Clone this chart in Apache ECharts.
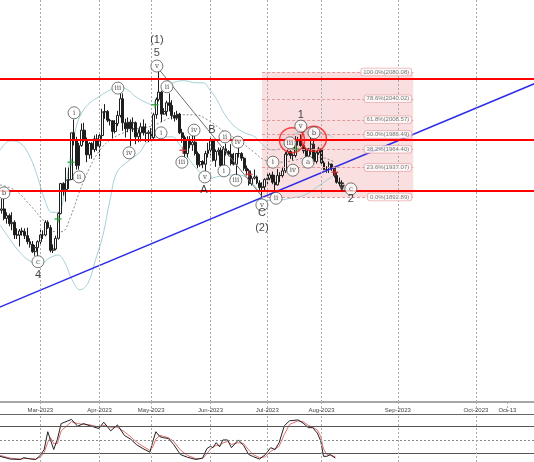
<!DOCTYPE html>
<html><head><meta charset="utf-8">
<script src="https://cdn.jsdelivr.net/npm/echarts@6/dist/echarts.min.js"></script>
<style>html,body{margin:0;padding:0;background:#fff}#c{width:534px;height:462px}</style>
</head><body><div id="c"></div>
<script>
// trading-day index: Feb 1 2023 = 0
const firstDay = 4;
const open = [1867,1873,1875,1861,1865,1853,1855,1836,1836,1842,1841,1835,1826,1822,1811,1817,
1826,1836,1836,1855,1847,1813,1815,1831,1868,1913,1904,1918,1919,1989,1978,1940,1970,1993,1978,1956,1973,1964,1980,
1969,1985,2020,2021,2008,2007,1991,2003,2015,2040,2004,1995,2005,1995,2004,1983,1989,1998,1989,1988,
1990,1982,2016,2039,2050,2017,2021,2034,2030,2015,2011,2017,1989,1982,1958,1978,1971,1975,1958,1941,1946,1942,1958,
1963,1978,1948,1961,1963,1940,1965,1961,1957,1943,1942,1958,1958,1951,1936,1932,1913,1921,1923,1914,1907,1908,
1919,1921,1926,1915,1911,1925,1925,1932,1957,1961,1955,1955,1979,1977,1970,1962,1954,1965,1972,1946,1959,
1965,1944,1934,1934,1942,1936,1925,1915,1913];
const high = [1880,1890,1890,1870,1868,1870,1858,1846,1845,1847,1846,1847,1831,1827,1821,1828,
1844,1843,1858,1858,1851,1822,1835,1870,1914,1915,1937,1937,1989,2009,1983,1974,2003,2004,1982,1975,1975,1985,1987,
1990,2025,2032,2023,2010,2008,2008,2022,2048,2048,2010,2012,2009,2012,2006,1994,2004,2009,2003,1993,
1996,2019,2042,2081,2052,2026,2037,2048,2038,2020,2022,2019,1995,1985,1984,1984,1985,1985,1961,1957,1948,1962,1974,
1983,1980,1964,1967,1967,1969,1973,1963,1972,1959,1958,1968,1960,1953,1940,1935,1925,1934,1925,1918,1915,1921,
1930,1929,1931,1926,1935,1930,1938,1960,1964,1963,1958,1984,1983,1987,1972,1966,1966,1982,1979,1962,1968,
1966,1947,1939,1946,1943,1938,1930,1922,1918];
const low = [1860,1868,1858,1853,1849,1843,1830,1830,1819,1835,1830,1822,1817,1809,1805,1804,
1822,1830,1834,1845,1810,1809,1813,1829,1867,1895,1886,1905,1918,1970,1934,1934,1968,1975,1945,1950,1950,1960,1962,
1950,1980,2010,2005,2000,1981,1988,1999,2012,1992,1982,1990,1969,1990,1972,1975,1976,1985,1975,1975,
1977,1977,2010,2036,2005,2016,2014,2021,2009,2006,2008,1987,1974,1952,1952,1966,1962,1955,1936,1938,1936,1932,1952,
1955,1946,1938,1955,1938,1939,1955,1954,1940,1940,1925,1952,1947,1932,1925,1910,1910,1919,1912,1902,1893,1902,
1912,1918,1912,1902,1910,1915,1922,1929,1955,1950,1948,1952,1970,1968,1958,1952,1951,1956,1942,1943,1956,
1941,1933,1929,1929,1932,1922,1913,1910,1911];
const close = [1873,1875,1861,1865,1853,1855,1836,1836,1842,1841,1835,1826,1822,1811,1817,1826,
1836,1836,1855,1847,1813,1815,1831,1868,1913,1904,1918,1919,1989,1978,1940,1970,1993,1978,1956,1973,1964,1980,1969,
1985,2020,2021,2008,2007,1991,2003,2015,2040,2004,1995,2005,1995,2004,1983,1989,1998,1989,1988,1990,
1982,2016,2039,2050,2017,2021,2034,2030,2015,2011,2017,1989,1982,1958,1978,1971,1975,1958,1941,1946,1942,1958,1963,
1978,1948,1961,1963,1940,1965,1961,1957,1943,1942,1958,1958,1951,1936,1932,1913,1921,1923,1914,1907,1908,1919,
1921,1926,1915,1911,1925,1925,1932,1957,1961,1955,1955,1979,1977,1970,1962,1954,1965,1972,1946,1959,1965,
1944,1934,1934,1942,1936,1925,1915,1913,1914];

const bbUpper = [[4.4,1963],[8.3,1977],[12.1,1974],[16.0,1953],[19.1,1921],[21.8,1888],[24.5,1870],[26.9,1870],[29.2,1896],[31.5,1948],[33.8,1996],[36.2,2020],[39.3,2034],[43.1,2044],[47.0,2053],[50.9,2058],[54.0,2053],[56.7,2044],[60.6,2035],[63.7,2031],[65.6,2038],[68.3,2056],[72.2,2065],[76.1,2067],[79.9,2064],[83.1,2064],[85.8,2053],[88.5,2038],[91.6,2016],[95.5,1998],[99.3,1989],[103.2,1983],[107.1,1968],[110.8,1963],[116.0,1978],[119.9,1989],[124.5,1990],[128.4,1989],[133.4,1983]];
const bbMid = [[4.4,1911],[10.2,1903],[16.0,1881],[21.8,1855],[25.7,1841],[28.4,1841],[31.5,1861],[35.4,1903],[39.3,1938],[43.1,1963],[47.0,1978],[52.8,1990],[58.6,1996],[63.3,1999],[68.3,2008],[74.1,2016],[79.9,2016],[85.0,2008],[91.6,1990],[98.2,1974],[103.2,1959],[107.1,1948],[112.9,1945],[118.7,1948],[124.5,1953],[130.3,1951],[134.2,1945]];
const bbLower = [[4.4,1851],[8.3,1829],[12.1,1810],[16.0,1797],[19.9,1793],[23.8,1802],[26.9,1806],[29.6,1794],[32.3,1769],[35.4,1754],[38.5,1764],[41.2,1796],[44.3,1836],[47.0,1888],[49.7,1930],[53.6,1945],[58.6,1960],[61.4,1975],[66.4,1983],[71.0,1983],[74.1,1971],[78.0,1948],[81.9,1930],[85.8,1921],[89.6,1924],[95.5,1926],[100.5,1921],[104.4,1903],[107.1,1888],[112.1,1888],[116.8,1891],[122.6,1896],[128.4,1911],[133.4,1924]];

const stochK = [[4.4,14],[8.3,8],[12.3,7],[13.6,11],[16.3,8],[18.2,7],[20.0,16],[21.5,29],[22.9,68],[23.9,51],[25.2,29],[26.6,51],[28.1,86],[32.1,95],[34.5,80],[36.7,86],[39.4,81],[42.7,75],[44.6,89],[47.3,70],[49.9,83],[52.6,60],[55.2,51],[57.2,40],[59.8,31],[62.5,23],[63.5,44],[64.8,68],[66.4,57],[67.7,55],[69.7,53],[71.7,40],[74.3,18],[77.0,12],[80.3,7],[82.9,10],[84.6,31],[86.0,36],[86.9,33],[88.2,44],[89.5,35],[90.8,50],[92.6,50],[94.1,33],[96.8,50],[98.8,38],[100.8,18],[102.7,13],[105.0,8],[107.3,18],[109.3,33],[111.0,29],[112.6,44],[114.6,81],[116.6,92],[119.9,94],[121.9,87],[123.9,77],[125.6,77],[127.4,65],[128.7,48],[129.8,14],[131.1,14],[132.4,18],[134.4,10]];
const stochD = [[4.4,16],[8.3,10],[12.3,8],[13.6,9],[16.3,9],[18.2,8],[20.0,12],[21.5,22],[22.9,45],[23.9,55],[25.2,42],[26.6,42],[28.1,70],[32.1,90],[34.5,86],[36.7,84],[39.4,83],[42.7,78],[44.6,82],[47.3,78],[49.9,78],[52.6,68],[55.2,56],[57.2,46],[59.8,36],[62.5,27],[63.5,33],[64.8,52],[66.4,60],[67.7,58],[69.7,55],[71.7,47],[74.3,28],[77.0,16],[80.3,9],[82.9,9],[84.6,20],[86.0,30],[86.9,34],[88.2,38],[89.5,38],[90.8,43],[92.6,47],[94.1,40],[96.8,44],[98.8,42],[100.8,28],[102.7,17],[105.0,11],[107.3,13],[109.3,25],[111.0,30],[112.6,36],[114.6,62],[116.6,84],[119.9,92],[121.9,90],[123.9,82],[125.6,78],[127.4,72],[128.7,58],[129.8,30],[131.1,18],[132.4,16],[134.4,13]];
const stochLevels = [80, 50, 20];

const tickDays = [20, 43, 63, 86, 108, 129, 158.6, 188.9, 201.1];
const tickLabels = ['Mar-2023','Apr-2023','May-2023','Jun-2023','Jul-2023','Aug-2023','Sep-2023','Oct-2023','Oct-13'];
const gridDays = [20, 43, 63, 86, 108, 129, 158.6, 188.9];

const fibPct = ['100.0%','78.6%','61.8%','50.0%','38.2%','23.6%','0.0%'];
const fibVal = [2080.08,2040.02,2008.57,1986.49,1964.40,1937.07,1892.89];
const fibSpan = [106, 164.6];

const redLevels = [2070.5, 1979.3, 1902.5];
const trendLine = [[0,1721.1],[212,2063.2]];
const waveLine = [[65.6,2086],[105.9,1894]];

const waveSmall = [[5.9,1899,'b'],[19.1,1796,'c'],[33.1,2019,'i'],[35.0,1923,'ii'],[50.1,2056,'iii'],[54.4,1959,'iv'],[65.2,2089,'v'],
 [66.8,1989,'i'],[69.1,2058,'ii'],[74.9,1945,'iii'],[79.6,1993,'iv'],[83.8,1923,'v'],
 [91.2,1932,'i'],[91.6,1983,'ii'],[95.8,1918,'iii'],[96.6,1975,'iv'],[105.9,1881,'v'],
 [110.2,1945,'i'],[111.4,1891,'ii'],[116.8,1974,'iii'],[117.9,1933,'iv'],[121.0,1999,'v'],
 [123.8,1945,'a'],[126.1,1989,'b'],[140.4,1905,'c']];
const waveBig = [[19.1,1776,'4'],[65.2,2108.5,'5'],[65.2,2128,'(1)'],[83.4,1903,'A'],[86.5,1993,'B'],[105.9,1869,'C'],[105.9,1846.5,'(2)'],[121.0,2016,'1'],[140.4,1890,'2']];
const buySignals = [[26.9,1860],[31.9,1945],[64.5,2031],[119.1,1965]];
const sellSignals = [[75.3,1963],[100.9,1927],[134.2,1930]];
const circles = [[117.6,1978],[126.1,1980]];
const arrowPt = [[136.9,1906]];

const X0 = 4.38, X1 = 211.4;
const font = 'Liberation Sans, Arial, sans-serif';
const candles = open.map((o,i)=>[firstDay+i, o, close[i], low[i], high[i]]);
const lbl = v => { const k = tickDays.findIndex(d=>Math.abs(d-v)<0.01); return k>=0 ? tickLabels[k] : ''; };
const named = arr => arr.map(d=>({value:[d[0],d[1]], name:d[2]}));
const plus = 'path://M4,0H6V4H10V6H6V10H4V6H0V4H4Z';

const chart = echarts.init(document.getElementById('c'));
chart.setOption({
  animation:false,
  backgroundColor:'#fff',
  grid:[{left:0,right:0,top:0,height:402},{left:0,right:0,top:414,height:48}],
  xAxis:[
    {gridIndex:0,type:'value',min:X0,max:X1,
     axisLine:{show:true,onZero:false,lineStyle:{color:'#a6a6a6',width:2}},
     axisTick:{show:true,customValues:tickDays,length:11,lineStyle:{color:'#aaa',type:[2,2]}},
     axisLabel:{show:true,customValues:tickDays,formatter:lbl,fontSize:6,color:'#444',margin:5,fontFamily:font},
     splitLine:{show:false}},
    {gridIndex:1,type:'value',min:X0,max:X1,position:'top',
     axisLine:{show:true,onZero:false,lineStyle:{color:'#666',width:1}},axisTick:{show:false},axisLabel:{show:false},splitLine:{show:false}},
    {gridIndex:1,type:'value',min:X0,max:X1,position:'bottom',
     axisLine:{show:true,onZero:false,lineStyle:{color:'#666',width:1}},axisTick:{show:false},axisLabel:{show:false},splitLine:{show:false}}
  ],
  yAxis:[
    {gridIndex:0,type:'value',min:1585.9,max:2187.9,show:false,splitLine:{show:false}},
    {gridIndex:1,type:'value',min:1.5,max:107,show:false,splitLine:{show:false}}
  ],
  series:[
    {type:'line',xAxisIndex:0,yAxisIndex:0,z:1,silent:true,symbol:'none',data:[[fibSpan[0],fibVal[6]]],lineStyle:{width:0},
     markArea:{silent:true,itemStyle:{color:'rgba(236,140,145,0.28)'},data:[[{coord:[fibSpan[0],fibVal[0]]},{coord:[fibSpan[1],fibVal[6]]}]]},
     markLine:{silent:true,symbol:'none',label:{show:false},lineStyle:{color:'#e39a9c',type:[3,2],width:1},
       data:fibVal.map(v=>[{coord:[fibSpan[0],v]},{coord:[fibSpan[1],v]}])}},
    {type:'line',xAxisIndex:0,yAxisIndex:0,z:2,silent:true,symbol:'none',smooth:0.4,data:bbMid,
     lineStyle:{color:'#8a8a8a',width:1,type:[2,2]},
     markLine:{silent:true,symbol:'none',label:{show:false},lineStyle:{color:'#aaaaaa',type:[2,2],width:1},
       data:gridDays.map(d=>({xAxis:d}))}},
    {type:'line',xAxisIndex:0,yAxisIndex:0,z:2,silent:true,symbol:'none',smooth:0.4,data:bbUpper,lineStyle:{color:'#a3d0d6',width:1}},
    {type:'line',xAxisIndex:0,yAxisIndex:0,z:2,silent:true,symbol:'none',smooth:0.4,data:bbLower,lineStyle:{color:'#a3d0d6',width:1}},
    {type:'candlestick',xAxisIndex:0,yAxisIndex:0,z:3,data:candles,encode:{x:0,y:[1,2,3,4]},barWidth:2.4,
     itemStyle:{color:'#ffffff',color0:'#1e1e1e',borderColor:'#1e1e1e',borderColor0:'#1e1e1e',borderWidth:1}},
    {type:'line',xAxisIndex:0,yAxisIndex:0,z:4,silent:true,symbol:'none',data:waveLine,lineStyle:{color:'#707070',width:1}},
    {type:'line',xAxisIndex:0,yAxisIndex:0,z:4,silent:true,symbol:'none',data:trendLine,lineStyle:{color:'#2c2ce8',width:1.5},
     markLine:{silent:true,symbol:'none',label:{show:false},lineStyle:{color:'#ff0000',type:'solid',width:2},
       data:redLevels.map(v=>({yAxis:v}))}},
    {type:'scatter',xAxisIndex:0,yAxisIndex:0,z:5,silent:true,symbol:'circle',symbolSize:25,data:circles,
     itemStyle:{color:'rgba(255,60,60,0.10)',borderColor:'#f01e1e',borderWidth:1.5}},
    {type:'scatter',xAxisIndex:0,yAxisIndex:0,z:6,silent:true,symbol:plus,symbolSize:7,data:buySignals,itemStyle:{color:'#2e9e3a'}},
    {type:'scatter',xAxisIndex:0,yAxisIndex:0,z:6,silent:true,symbol:plus,symbolSize:7,data:sellSignals,itemStyle:{color:'#d33030'}},
    {type:'scatter',xAxisIndex:0,yAxisIndex:0,z:6,silent:true,symbol:'triangle',symbolRotate:180,symbolSize:[6,7],data:arrowPt,itemStyle:{color:'#111'}},
    {type:'scatter',xAxisIndex:0,yAxisIndex:0,z:7,silent:true,symbol:'circle',symbolSize:12,data:named(waveSmall),
     itemStyle:{color:'#fff',borderColor:'#444',borderWidth:0.9},
     label:{show:true,position:'inside',formatter:'{b}',fontSize:7,color:'#222',fontFamily:'DejaVu Serif, serif'}},
    {type:'scatter',xAxisIndex:0,yAxisIndex:0,z:7,silent:true,symbol:'circle',symbolSize:1,data:named(waveBig),
     itemStyle:{color:'rgba(0,0,0,0)'},
     label:{show:true,position:'inside',formatter:'{b}',fontSize:11,color:'#111',fontFamily:font}},
    {type:'scatter',xAxisIndex:0,yAxisIndex:0,z:8,silent:true,symbol:'circle',symbolSize:1,
     data:fibVal.map((v,i)=>({value:[fibSpan[1]-0.2,v],name:fibPct[i]+'('+v.toFixed(2)+')'})),
     itemStyle:{color:'rgba(0,0,0,0)'},
     label:{show:true,position:'left',distance:1,formatter:'{b}',fontSize:6,color:'#555',fontFamily:font,
       backgroundColor:'#fff',borderColor:'#e5a0a2',borderWidth:0.8,borderRadius:2,padding:[1,2,0,2]}},
    {type:'line',xAxisIndex:1,yAxisIndex:1,z:3,silent:true,symbol:'none',data:stochD,lineStyle:{color:'#e07070',width:1}},
    {type:'line',xAxisIndex:1,yAxisIndex:1,z:4,silent:true,symbol:'none',data:stochK,lineStyle:{color:'#222',width:1},
     markLine:{silent:true,symbol:'none',label:{show:false},
       data:[
         {yAxis:stochLevels[0],lineStyle:{color:'#555',type:'solid',width:1}},
         {yAxis:stochLevels[1],lineStyle:{color:'#888',type:[2,2],width:1}},
         {yAxis:stochLevels[2],lineStyle:{color:'#555',type:'solid',width:1}}
       ].concat(gridDays.map(d=>({xAxis:d,lineStyle:{color:'#aaaaaa',type:[2,2],width:1}})))}}
  ]
});
</script>
</body></html>
